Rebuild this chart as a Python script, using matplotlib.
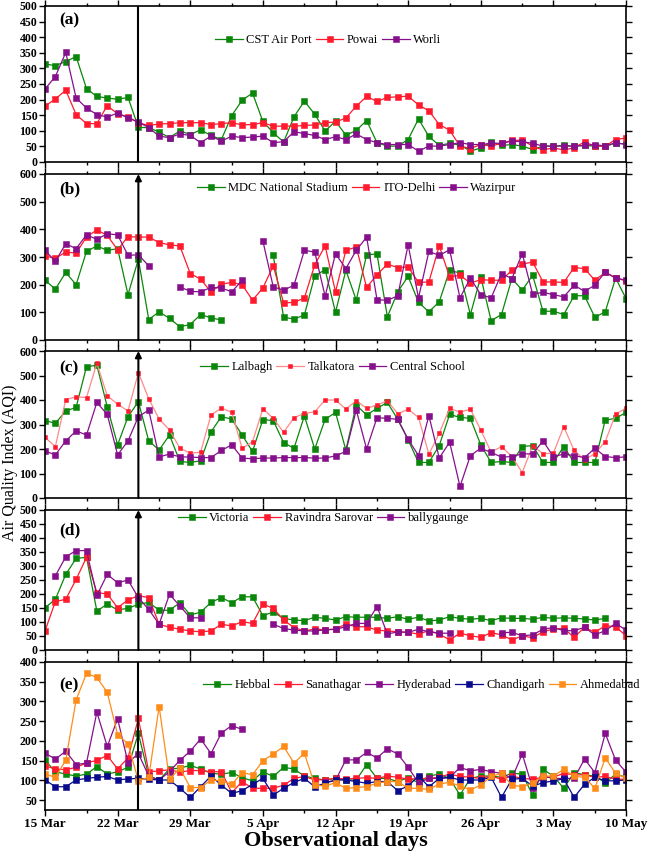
import numpy as np
import matplotlib
matplotlib.use("Agg")
import matplotlib.pyplot as plt

plt.rcParams['font.family'] = ['Liberation Serif', 'DejaVu Serif']

nan = np.nan
days = np.arange(57)  # 15 Mar .. 10 May
tick_days = [0, 7, 14, 21, 28, 35, 42, 49, 56]
tick_labels = ['15 Mar', '22 Mar', '29 Mar', '5 Apr', '12 Apr', '19 Apr', '26 Apr', '3 May', '10 May']
minor_days = [4, 11, 18, 25, 32, 39, 46, 53]
lockdown_day = 9

# (a) Mumbai
cst = [314, 309, 322, 338, 235, 210, 205, 201, 207, 111, 110, 96, 78, 100, 88, 103, 85, 72, 149, 198,
       221, 130, 94, 64, 145, 195, 153, 99, 131, 86, 101, 133, 62, 51, 51, 72, 138, 82, 53, 60,
       54, 35, 45, 64, 53, 56, 51, 40, 51, 51, 53, 51, 53, 51, 51, 60, 58]
powai = [179, 202, 230, 152, 123, 123, 181, 154, 145, 126, 117, 122, 123, 126, 126, 126, 120, 123, 126, 119,
         120, 126, 115, 115, 115, 117, 119, 126, 128, 141, 179, 210, 194, 207, 209, 211, 183, 164, 120, 102,
         51, 43, 56, 51, 60, 69, 70, 51, 38, 46, 38, 46, 64, 51, 51, 72, 77]
worli = [234, 274, 351, 205, 173, 152, 144, 157, 141, 128, 110, 83, 78, 90, 85, 62, 83, 67, 83, 78,
         80, 83, 62, 65, 97, 91, 85, 72, 81, 72, 90, 72, 62, 56, 56, 56, 35, 51, 51, 56,
         62, 56, 56, 60, 60, 67, 65, 60, 51, 51, 51, 51, 53, 56, 51, 62, 56]

# (b) Delhi
mdc = [216, 184, 244, 200, 320, 340, 324, 330, 164, 292, 74, 102, 78, 48, 56, 92, 80, 72, nan, nan,
       nan, nan, 306, 82, 76, 90, 232, 254, 100, 252, 144, 308, 311, 84, 174, 230, 136, 102, 138, 252,
       242, 92, 228, 70, 92, 222, 180, 234, 104, 104, 92, 160, 160, 82, 102, 224, 150]
ito = [304, 295, 318, 314, 372, 398, 378, 326, 374, 372, 372, 352, 344, 340, 240, 220, 174, 202, 208, 200,
       144, 188, 268, 134, 136, 152, 272, 340, 174, 324, 336, 190, 236, 274, 262, 264, 208, 210, 340, 228,
       234, 206, 218, 216, 216, 252, 274, 282, 210, 210, 208, 262, 258, 216, 244, 224, 214]
wazirpur = [324, 284, 348, 330, 380, 364, 384, 380, 306, 308, 268, nan, nan, 192, 176, 174, 190, 188, 174, 216,
            nan, 358, 192, 180, 198, 324, 318, 158, 312, 258, 324, 372, 146, 143, 160, 344, 152, 320, 306, 326,
            152, 224, 164, 152, 240, 222, 312, 166, 172, 164, 156, 198, 176, 198, 246, 224, 216]

# (c) Lucknow
lalbagh = [316, 305, 355, 370, 536, 542, 372, 217, 332, 393, 233, 196, 257, 149, 145, 152, 270, 332, 322, 257,
           190, 320, 316, 226, 203, 335, 200, 321, 349, 196, 379, 339, 366, 390, 321, 237, 145, 145, 214, 341,
           329, 325, 217, 145, 149, 145, 210, 214, 145, 145, 210, 145, 145, 145, 318, 325, 349]
talkatora = [247, 210, 402, 413, 410, 550, 417, 383, 355, 512, 405, 322, 278, 203, 183, 187, 339, 367, 350, 203,
             229, 364, 325, 268, 328, 345, 352, 400, 400, 363, 397, 366, 379, 397, 344, 362, 329, 179, 264, 366,
             350, 363, 278, 187, 210, 169, 104, 213, 181, 183, 291, 194, 156, 181, 230, 343, 366]
central = [192, 176, 233, 274, 257, 390, 341, 176, 233, 332, 359, 168, 179, 168, 167, 165, 165, 194, 217, 163,
           160, 163, 163, 165, 165, 165, 163, 163, 172, 190, 359, 200, 328, 325, 321, 240, 173, 336, 163, 228,
           47, 173, 203, 186, 167, 169, 180, 180, 233, 169, 179, 173, 165, 203, 169, 165, 168]

# (d) Kolkata
victoria = [151, 181, 270, 327, 331, 139, 164, 143, 149, 163, 170, 142, 142, 169, 125, 135, 170, 187, 169, 190,
            190, 123, 135, 113, 107, 105, 117, 113, 107, 119, 117, 117, 117, 113, 119, 110, 117, 104, 107, 119,
            113, 110, 113, 105, 115, 113, 113, 110, 117, 113, 115, 113, 111, 107, 113, nan, nan]
ravindra = [68, 173, 181, 252, 331, 205, 200, 151, 179, 194, 187, 92, 81, 74, 68, 65, 68, 92, 86, 101,
            95, 164, 149, 107, 80, 68, 75, 72, 75, 92, 83, 83, 71, 68, 65, 63, 57, 69, 57, 36,
            60, 51, 45, 62, 54, 36, 50, 44, 65, 75, 77, 45, 81, 63, 87, 83, 51]
bally = [nan, 265, 333, 355, 355, 195, 270, 240, 250, 187, 145, 92, 199, 157, 115, 115, nan, nan, nan, nan,
         nan, nan, 92, 77, 71, 68, 68, 72, 74, 83, 95, 95, 155, 57, 65, 63, 74, 65, 60, 60,
         nan, nan, nan, nan, 62, 63, 51, 54, 74, 80, 69, 69, 81, 54, 69, 95, 71]

# (e) other cities
hebbal = [151, 122, 116, 111, 116, 135, 116, 122, 133, 219, 111, 101, 129, 131, 138, 129, 118, 116, 120, 107,
          99, 122, 110, 133, 129, 111, 105, 101, 105, 101, 101, 140, 105, 105, 97, 107, 94, 111, 116, 105,
          63, 105, 111, 111, 108, 118, 116, 63, 128, 111, 80, 120, 114, 111, 94, 116, 108]
sanath = [137, 129, 127, 133, 144, 151, 163, 129, 157, 257, 122, 124, 127, 121, 125, 125, 122, 122, 69, 97,
          80, 80, 80, 88, 105, 110, 101, 102, 105, 104, 105, 107, 105, 111, 108, 103, 105, 105, 108, 116,
          110, 108, 105, 111, 103, 111, 105, 103, 108, 108, 118, 114, 114, 108, 110, 103, 103]
hyderabad = [169, 154, 174, 140, 144, 273, 186, 256, 145, 168, 111, 101, 122, 151, 174, 205, 168, 220, 239, 229,
             nan, nan, nan, nan, nan, nan, nan, 95, 100, 152, 152, 171, 157, 180, 167, 133, 94, 105, 105, 107,
             133, 124, 128, 122, 118, 105, 167, 80, 111, 105, 105, 105, 154, 120, 219, 151, 121]
chandigarh = [101, 84, 84, 101, 105, 108, 110, 101, 104, 105, 103, 101, 101, 80, 57, 84, 111, 88, 67, 74,
              90, 105, 63, 80, 95, 105, 84, 93, 101, 101, 97, 93, 97, 97, 74, 86, 111, 84, 105, 108,
              101, 101, 101, 108, 57, 103, 105, 86, 94, 99, 104, 57, 90, 108, 99, 99, 101]
ahmedabad = [116, 108, 151, 304, 371, 361, 323, 216, 193, 99, 108, 287, 103, 131, 82, 82, 101, 99, 90, 120,
             114, 150, 167, 186, 144, 169, 88, 86, 94, 80, 82, 84, 93, 97, 97, 80, 80, 77, 91, 95,
             86, 76, 88, 110, 118, 88, 84, 93, 111, 111, 128, 110, 108, 80, 157, 118, 105]

GREEN = '#0a870a'
RED = '#ff1a2e'
PURPLE = '#86108c'
NAVY = '#0a0a8c'
ORANGE = '#ff8c1a'

panels = [
    dict(tag='(a)', ylim=(0, 500), yticks=np.arange(0, 501, 50), arrow=False,
         series=[('CST Air Port', cst, GREEN, GREEN), ('Powai', powai, RED, RED), ('Worli', worli, PURPLE, PURPLE)],
         leg=(0.293, 0.78), tagpos=(0.025, 0.91)),
    dict(tag='(b)', ylim=(0, 600), yticks=np.arange(0, 601, 100), arrow=True,
         series=[('MDC National Stadium', mdc, GREEN, GREEN), ('ITO-Delhi', ito, RED, RED),
                 ('Wazirpur', wazirpur, PURPLE, PURPLE)],
         leg=(0.262, 0.915), tagpos=(0.025, 0.91)),
    dict(tag='(c)', ylim=(0, 600), yticks=np.arange(0, 601, 100), arrow=True,
         series=[('Lalbagh', lalbagh, GREEN, GREEN), ('Talkatora', talkatora, RED, '#ff8a8a'),
                 ('Central School', central, PURPLE, PURPLE)],
         leg=(0.267, 0.89), tagpos=(0.025, 0.885)),
    dict(tag='(d)', ylim=(0, 500), yticks=np.arange(0, 501, 50), arrow=True,
         series=[('Victoria', victoria, GREEN, GREEN), ('Ravindra Sarovar', ravindra, RED, RED),
                 ('ballygaunge', bally, PURPLE, PURPLE)],
         leg=(0.229, 0.94), tagpos=(0.025, 0.857)),
    dict(tag='(e)', ylim=(25, 400), yticks=np.arange(50, 401, 50), arrow=False,
         series=[('Hebbal', hebbal, GREEN, GREEN), ('Sanathagar', sanath, RED, RED),
                 ('Hyderabad', hyderabad, PURPLE, PURPLE), ('Chandigarh', chandigarh, NAVY, NAVY),
                 ('Ahmedabad', ahmedabad, ORANGE, ORANGE)],
         leg=(0.272, 0.845), tagpos=(0.025, 0.845)),
]

# axes boxes in pixels (top, bottom) of a 649x852 figure
boxes = [(6, 162), (174, 340), (351, 498), (510, 650), (662, 810)]
W, H = 649, 852
left, right = 45, 626

fig = plt.figure(figsize=(W / 100, H / 100), dpi=100)

for i, (p, (top, bot)) in enumerate(zip(panels, boxes)):
    ax = fig.add_axes([left / W, 1 - bot / H, (right - left) / W, (bot - top) / H])
    for name, vals, mcol, lcol in p['series']:
        ms = 2.8 if name == 'Talkatora' else 3.9
        ax.plot(days, vals, color=lcol, lw=0.9, marker='s', ms=ms, mfc=mcol, mec=mcol,
                mew=0.4, label=name)
    ax.set_xlim(0, 56)
    ax.set_ylim(*p['ylim'])
    ax.set_yticks(p['yticks'])
    ax.set_xticks(tick_days)
    ax.set_xticks(minor_days, minor=True)
    if i == len(panels) - 1:
        ax.set_xticklabels(tick_labels, fontweight='bold', fontsize=9.5)
    else:
        ax.set_xticklabels([])
    for lab in ax.get_yticklabels():
        lab.set_fontweight('bold')
        lab.set_fontsize(8.5)
    ax.tick_params(which='both', direction='out', top=True, right=True, width=1.0)
    ax.tick_params(which='major', length=4, pad=1.5)
    ax.tick_params(which='minor', length=2.5)
    for s in ax.spines.values():
        s.set_linewidth(1.2)

    # lockdown marker
    if p['arrow']:
        ax.annotate('', xy=(lockdown_day, 1.0), xytext=(lockdown_day, 0.0),
                    xycoords=('data', 'axes fraction'), textcoords=('data', 'axes fraction'),
                    arrowprops=dict(arrowstyle='-|>', color='black', lw=1.5,
                                    mutation_scale=9, shrinkA=0, shrinkB=0))
    else:
        ax.axvline(lockdown_day, color='black', lw=1.5)

    ax.text(p['tagpos'][0], p['tagpos'][1], p['tag'], transform=ax.transAxes,
            fontsize=12.5, fontweight='bold', va='center', ha='left')
    ax.legend(loc='center left', bbox_to_anchor=p['leg'], ncol=len(p['series']), frameon=False,
              fontsize=9, handlelength=2.2, handletextpad=0.3, columnspacing=0.3,
              borderpad=0, borderaxespad=0)

fig.text(10 / W, 1 - 463 / H, 'Air Quality Index (AQI)', rotation=90, fontsize=11.5,
         va='center', ha='center')
fig.text((left + right) / 2 / W, 1 - 841 / H, 'Observational days', fontsize=16,
         fontweight='bold', ha='center', va='center')

fig.savefig('out.png', dpi=100)
